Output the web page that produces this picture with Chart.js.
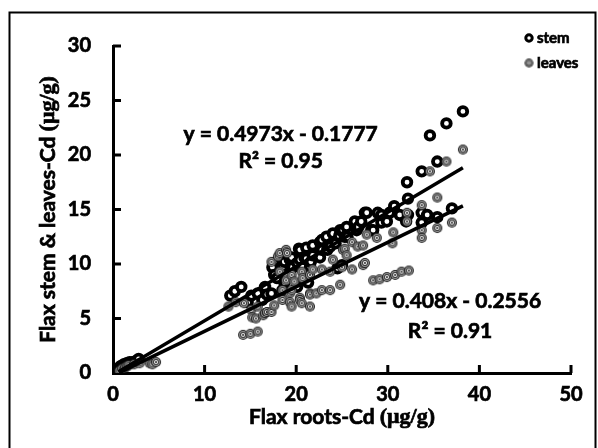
<!DOCTYPE html>
<html><head><meta charset="utf-8">
<script src="https://cdn.jsdelivr.net/npm/chart.js@4"></script>
<style>html,body{margin:0;padding:0;background:#fff;overflow:hidden}canvas{display:block}</style>
</head><body>
<canvas id="c" width="598" height="448"></canvas>
<script>
const xTickValues=[0,10,20,30,40,50];
const yTickValues=[0,5,10,15,20,25,30];
const seriesNames=['stem','leaves'];
const stemX=[0.6,0.8,0.9,1.0,1.2,1.5,1.8,2.1,2.5,2.8,
12.8,13.3,14.0,14.7,15.1,15.8,16.3,16.6,16.8,17.3,17.6,17.4,17.6,17.9,18.5,18.5,18.7,18.7,19.3,19.5,
19.5,19.6,20.1,20.1,20.3,20.4,20.4,20.7,20.9,21.1,21.1,21.3,21.5,21.6,21.8,21.8,22.6,22.6,22.8,22.8,
23.3,23.4,23.7,24.0,24.3,24.5,24.7,24.8,25.0,25.1,25.3,25.5,25.6,26.4,26.6,26.8,27.1,27.5,27.7,28.2,
28.4,28.9,29.3,29.3,29.9,30.2,30.7,31.3,32.0,32.1,32.2,32.2,33.7,33.7,33.7,34.3,35.4,35.4,34.6,36.4,37.0,38.2];
const stemY=[0.4,0.6,0.5,0.7,0.8,0.9,1.0,1.0,1.1,1.3,
7.1,7.5,7.9,6.5,7.1,7.3,6.7,7.9,7.2,7.3,10.1,9.7,9.0,8.7,9.7,7.6,8.3,10.2,10.4,9.6,
10.6,9.7,10.1,7.9,11.4,11.3,10.4,9.7,10.6,11.5,10.5,8.3,9.7,10.2,11.7,10.8,12.0,10.6,11.3,12.2,
12.5,11.3,11.6,12.8,11.9,9.6,12.6,13.1,9.9,13.1,12.5,13.4,12.5,13.9,13.1,13.4,13.9,14.7,14.7,13.1,
13.1,14.7,13.8,14.5,13.9,14.7,15.3,14.5,13.9,17.5,16.0,14.5,14.7,13.8,18.5,14.5,14.3,19.4,21.8,22.9,15.1,24.0];
const leavesX=[0.7,1.0,1.3,1.5,1.7,2.3,2.9,4.0,4.3,4.7,
12.6,13.4,14.3,14.2,15.0,15.8,15.1,15.2,15.6,15.8,16.4,16.6,16.8,17.3,17.6,17.3,18.0,18.2,18.9,19.0,
18.2,18.5,18.5,18.9,19.3,19.3,19.5,19.5,19.5,19.8,20.4,20.4,20.6,20.6,20.7,21.5,21.5,21.5,21.5,21.8,
22.2,22.8,22.8,23.7,23.7,24.0,24.8,25.0,25.1,25.3,25.5,26.1,26.1,26.7,27.3,27.3,27.5,27.7,28.8,28.4,
29.1,29.9,30.8,31.5,32.3,30.5,30.6,32.1,32.1,33.7,33.7,33.7,34.6,35.4,35.4,36.4,37.0,38.2];
const leavesY=[0.2,0.4,0.5,0.6,0.7,0.8,0.9,0.9,0.8,1.0,
6.1,6.5,6.4,3.5,3.6,3.8,5.8,5.1,5.0,6.1,5.3,5.5,5.6,5.6,6.2,10.2,10.7,11.0,11.3,11.0,
9.3,6.7,7.6,8.5,7.3,6.5,9.0,7.6,6.1,8.4,6.9,6.7,6.4,9.3,8.7,9.0,7.3,6.1,7.2,9.5,
7.3,9.5,7.6,9.3,7.6,10.4,8.1,9.7,11.3,11.4,10.8,12.0,9.5,11.6,9.9,11.7,10.1,12.7,12.4,8.5,
8.6,8.8,9.0,9.3,9.4,11.9,12.9,14.7,13.9,15.4,13.1,12.4,18.5,16.1,13.3,19.4,13.8,20.5];
const stemTrendX=[0.6,38.2];
const stemTrendY=[0.12,18.82];
const leavesTrendX=[0.7,38.2];
const leavesTrendY=[0.03,15.33];
const eqStem=['y = 0.4973x - 0.1777','R\u00B2 = 0.95'];
const eqStemPos=[18.3,21.9,19.4];
const eqLeaves=['y = 0.408x - 0.2556','R\u00B2 = 0.91'];
const eqLeavesPos=[36.8,6.6,3.8];
const xTitle=['Flax roots-Cd ','(\u03BCg/g)'];
const yTitle=['Flax stem & leaves-Cd ','(\u03BCg/g)'];

const SANS='Lato, "Open Sans", sans-serif';
const SERIF='"Liberation Serif", "DejaVu Serif", serif';

function ringImg(r){
  const s=Math.ceil(r*2+2);const c=document.createElement('canvas');c.width=s;c.height=s;
  const g=c.getContext('2d');const m=s/2;
  const disk=(rr,col)=>{g.beginPath();g.arc(m,m,rr,0,2*Math.PI);g.fillStyle=col;g.fill();};
  disk(r,'#1e1e1e');disk(r*0.78,'#9c9c9c');disk(r*0.58,'#2a2a2a');disk(r*0.4,'#ffffff');disk(r*0.2,'#222');
  return c;
}
const leafImg=ringImg(5);
const leafImgSmall=ringImg(4.4);

function pts(xs,ys){return xs.map((x,i)=>({x:x,y:ys[i]}));}

function boldText(ctx,t,x,y){ctx.fillText(t,x,y);ctx.lineWidth=0.7;ctx.strokeStyle=ctx.fillStyle;ctx.strokeText(t,x,y);}
function drawMixed(ctx,parts,fonts,cx,cy){
  let widths=parts.map((p,i)=>{ctx.font=fonts[i];return ctx.measureText(p).width;});
  let total=widths.reduce((a,b)=>a+b,0);
  let x=cx-total/2;
  ctx.textAlign='left';ctx.textBaseline='middle';
  parts.forEach((p,i)=>{ctx.font=fonts[i];boldText(ctx,p,x,cy);x+=widths[i];});
}

const deco={
  id:'deco',
  beforeDraw(chart){
    const ctx=chart.ctx;ctx.save();ctx.fillStyle='#fff';ctx.fillRect(0,0,chart.width,chart.height);
    ctx.strokeStyle='#000';ctx.lineWidth=2;ctx.strokeRect(9.5,12.5,586,460);ctx.restore();
  },
  beforeDatasetsDraw(chart){
    const ctx=chart.ctx,xs=chart.scales.x,ys=chart.scales.y;
    ctx.save();ctx.strokeStyle='#000';ctx.lineWidth=3;ctx.beginPath();
    xTickValues.forEach(v=>{if(v===0)return;const p=xs.getPixelForValue(v);ctx.moveTo(p,xs.top);ctx.lineTo(p,xs.top-8);});
    yTickValues.forEach(v=>{if(v===0)return;const p=ys.getPixelForValue(v);ctx.moveTo(ys.right,p);ctx.lineTo(ys.right+8,p);});
    ctx.stroke();ctx.restore();
  },
  afterDraw(chart){
    const ctx=chart.ctx,xs=chart.scales.x,ys=chart.scales.y,ca=chart.chartArea;
    ctx.save();ctx.fillStyle='#000';
    drawMixed(ctx,xTitle,['bold 21px '+SANS,'bold 22px '+SERIF],(ca.left+ca.right)/2,417);
    ctx.save();ctx.translate(48,(ca.top+ca.bottom)/2);ctx.rotate(-Math.PI/2);
    drawMixed(ctx,yTitle,['bold 21px '+SANS,'bold 22px '+SERIF],0,0);ctx.restore();
    ctx.font='bold 21px '+SANS;ctx.textAlign='center';ctx.textBaseline='middle';
    boldText(ctx,eqStem[0],xs.getPixelForValue(eqStemPos[0]),ys.getPixelForValue(eqStemPos[1]));
    boldText(ctx,eqStem[1],xs.getPixelForValue(eqStemPos[0]),ys.getPixelForValue(eqStemPos[2]));
    boldText(ctx,eqLeaves[0],xs.getPixelForValue(eqLeavesPos[0]),ys.getPixelForValue(eqLeavesPos[1]));
    boldText(ctx,eqLeaves[1],xs.getPixelForValue(eqLeavesPos[0]),ys.getPixelForValue(eqLeavesPos[2]));
    // legend
    const lx=529,ly=[38,63];
    ctx.beginPath();ctx.arc(lx,ly[0],3.2,0,2*Math.PI);ctx.fillStyle='#fff';ctx.fill();ctx.lineWidth=3;ctx.strokeStyle='#000';ctx.stroke();
    ctx.drawImage(leafImgSmall,lx-leafImgSmall.width/2,ly[1]-leafImgSmall.height/2);
    ctx.fillStyle='#000';ctx.font='bold 15px '+SANS;ctx.textAlign='left';ctx.textBaseline='middle';
    boldText(ctx,seriesNames[0],lx+8,ly[0]);boldText(ctx,seriesNames[1],lx+8,ly[1]);
    ctx.restore();
  }
};

new Chart(document.getElementById('c'),{
  type:'scatter',
  data:{datasets:[
    {label:'stem trend',type:'line',data:pts(stemTrendX,stemTrendY),borderColor:'#000',borderWidth:3.5,pointRadius:0,fill:false,order:0},
    {label:'leaves trend',type:'line',data:pts(leavesTrendX,leavesTrendY),borderColor:'#000',borderWidth:3.5,pointRadius:0,fill:false,order:0},
    {label:seriesNames[1],data:pts(leavesX,leavesY),pointStyle:leafImg,pointRadius:5,order:1},
    {label:seriesNames[0],data:pts(stemX,stemY),pointStyle:'circle',pointRadius:4.3,borderWidth:3.8,borderColor:'#000',backgroundColor:'#fff',order:2}
  ]},
  options:{
    responsive:false,animation:false,devicePixelRatio:1,
    layout:{padding:{top:46,right:27,left:0,bottom:0}},
    plugins:{legend:{display:false},tooltip:{enabled:false}},
    scales:{
      x:{type:'linear',min:0,max:50,
        afterBuildTicks(s){s.ticks=xTickValues.map(v=>({value:v}));},
        afterFit(s){s.height=75;},
        grid:{display:false,drawTicks:false},border:{display:true,width:3,color:'#000'},
        ticks:{padding:10,color:'#000',textStrokeColor:'#000',textStrokeWidth:0.7,font:{family:SANS,size:20,weight:'bold'},maxRotation:0}},
      y:{type:'linear',min:0,max:30,
        afterBuildTicks(s){s.ticks=yTickValues.map(v=>({value:v}));},
        afterFit(s){s.width=113;},
        grid:{display:false,drawTicks:false},border:{display:true,width:3,color:'#000'},
        ticks:{padding:22,color:'#000',textStrokeColor:'#000',textStrokeWidth:0.7,font:{family:SANS,size:20,weight:'bold'}}}
    }
  },
  plugins:[deco]
});
</script>
</body></html>
